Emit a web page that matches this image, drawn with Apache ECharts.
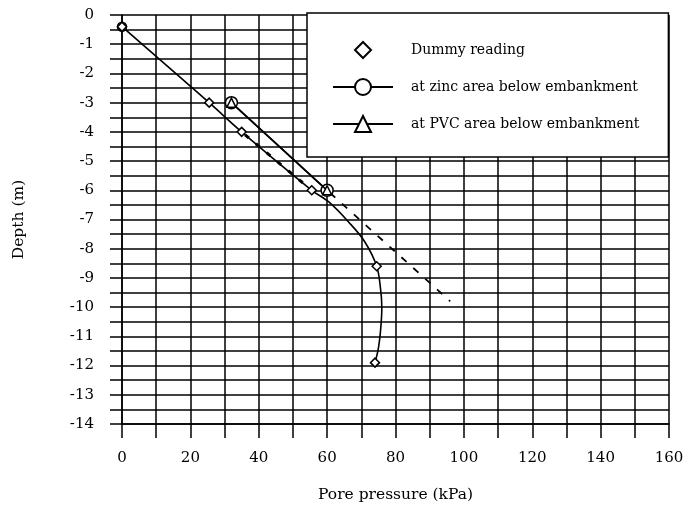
<!DOCTYPE html>
<html>
<head>
<meta charset="utf-8">
<script src="https://cdn.jsdelivr.net/npm/echarts@6/dist/echarts.min.js"></script>
<style>html,body{margin:0;padding:0;background:#fff}#c{width:689px;height:513px}</style>
</head>
<body>
<div id="c"></div>
<script>
// ---- data ----
const xName = 'Pore pressure (kPa)';
const yName = 'Depth (m)';
const seriesNames = ['Dummy reading', 'at zinc area below embankment', 'at PVC area below embankment'];

const dummyX = [0, 25.5, 35, 55.5, 74.5, 74];
const dummyY = [-0.4, -3, -4, -6, -8.6, -11.9];

const curveX = [0, 25.5, 35, 55.5, 60.5, 66.4, 71, 74.5, 75.6, 76, 75.7, 75, 74];
const curveY = [-0.4, -3, -4, -6, -6.4, -7.1, -7.76, -8.6, -9.35, -10, -10.7, -11.4, -11.9];

const zincX = [32, 60];
const zincY = [-3, -6];
const pvcX = [32, 60];
const pvcY = [-3, -6];

const trendX = [60, 96];
const trendY = [-6, -9.8];

const overlayX = [36, 55.5];
const overlayY = [-4.1, -6];

const xMin = 0, xMax = 160, xStep = 10, xLabelStep = 20;
const yMin = -14, yMax = 0, yStep = 0.5;

// ---- build ----
const zip = (xs, ys) => xs.map((x, i) => [x, ys[i]]);
const font = 'DejaVu Serif';
const black = '#000';

const chart = echarts.init(document.getElementById('c'), null, {renderer: 'canvas'});
chart.setOption({
  animation: false,
  backgroundColor: '#fff',
  grid: {left: 122, top: 15, right: 20, bottom: 89, containLabel: false},
  xAxis: {
    type: 'value', min: xMin, max: xMax, interval: xStep,
    name: xName, nameLocation: 'middle', nameGap: 63,
    nameTextStyle: {fontFamily: font, fontSize: 15.5, color: black},
    axisLine: {show: true, onZero: false, lineStyle: {color: black, width: 1.5}},
    axisTick: {show: true, inside: false, length: 14, lineStyle: {color: black, width: 1.5}},
    axisLabel: {margin: 27, fontFamily: font, fontSize: 15, color: black,
      formatter: v => (v % xLabelStep === 0 ? String(v) : '')},
    splitLine: {show: true, lineStyle: {color: black, width: 1.5}}
  },
  yAxis: {
    type: 'value', min: yMin, max: yMax, interval: yStep,
    name: yName, nameLocation: 'middle', nameGap: 95, nameRotate: 90,
    nameTextStyle: {fontFamily: font, fontSize: 15.5, color: black},
    axisLine: {show: true, onZero: false, lineStyle: {color: black, width: 1.5}},
    axisTick: {show: true, inside: false, length: 12, lineStyle: {color: black, width: 1.5}},
    axisLabel: {margin: 28, fontFamily: font, fontSize: 15, color: black,
      formatter: v => (Number.isInteger(v) ? String(v) : '')},
    splitLine: {show: true, lineStyle: {color: black, width: 1.5}}
  },
  legend: {
    orient: 'vertical', left: 307, top: 13,
    padding: [27, 29, 23, 25],
    itemGap: 17, itemWidth: 60, itemHeight: 20,
    backgroundColor: '#fff', borderColor: black, borderWidth: 1.5,
    selectedMode: false,
    textStyle: {fontFamily: font, fontSize: 14, color: black, lineHeight: 20, padding: [0, 0, 0, 13]},
    data: [
      {name: seriesNames[0]},
      {name: seriesNames[1]},
      {name: seriesNames[2]}
    ]
  },
  series: [
    {
      name: 'curve', type: 'line', smooth: 0.35, silent: true,
      data: zip(curveX, curveY).map((p, i) => i === 0
        ? {value: p, symbol: 'circle', symbolSize: 9}
        : {value: p, symbol: 'none'}),
      showSymbol: true,
      lineStyle: {color: black, width: 1.6},
      itemStyle: {color: '#fff', borderColor: black, borderWidth: 1.5},
      z: 3
    },
    {
      name: 'overlay', type: 'line', silent: true, symbol: 'none',
      data: zip(overlayX, overlayY),
      lineStyle: {color: black, width: 3, type: [5, 9], dashOffset: 0},
      z: 3
    },
    {
      name: 'trend', type: 'line', silent: true, symbol: 'none',
      data: zip(trendX, trendY),
      lineStyle: {color: black, width: 1.8, type: [7, 9], dashOffset: 12},
      z: 3
    },
    {
      name: seriesNames[1], type: 'line', symbol: 'circle', symbolSize: 12,
      data: zip(zincX, zincY),
      lineStyle: {color: black, width: 1.6},
      itemStyle: {color: '#fff', borderColor: black, borderWidth: 1.5},
      z: 4
    },
    {
      name: seriesNames[2], type: 'line', symbol: 'triangle', symbolSize: 9,
      data: zip(pvcX, pvcY),
      lineStyle: {color: black, width: 1.6},
      itemStyle: {color: '#fff', borderColor: black, borderWidth: 1.5},
      z: 5
    },
    {
      name: seriesNames[0], type: 'line', symbol: 'diamond', symbolSize: 9,
      showAllSymbol: true,
      data: zip(dummyX, dummyY),
      lineStyle: {width: 0, opacity: 0},
      itemStyle: {color: '#fff', borderColor: black, borderWidth: 1.5, opacity: 1},
      z: 6
    }
  ]
});
</script>
</body>
</html>
